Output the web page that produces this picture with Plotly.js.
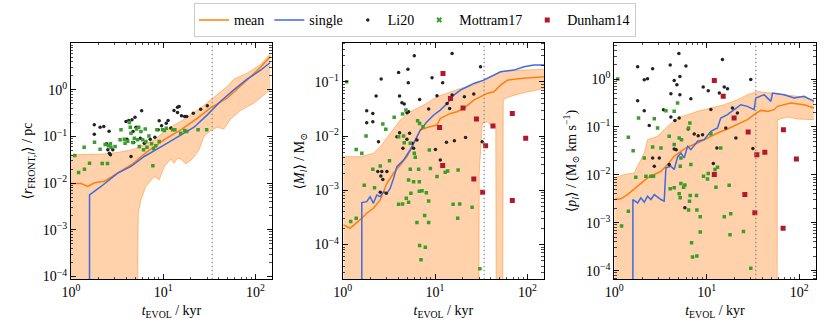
<!DOCTYPE html>
<html>
<head>
<meta charset="utf-8">
<script src="https://cdn.plot.ly/plotly-3.0.1.min.js"></script>
<style>
  html, body { margin: 0; padding: 0; background: #fff; }
  #chart { width: 830px; height: 332px; }
</style>
</head>
<body>
<div id="chart"></div>
<script>
// Data

// vertical marker (kyr)
const T_REF = 34;
// stands in for "band reaches zero" on a log axis
const FLOOR = 1e-8;

// Panel 1: <r_FRONT,l> / pc
const p1UpperT = [1.0, 1.52, 2.12, 3.21, 4.86, 8.0, 11.1, 16.9, 25.5, 32.7, 49.4, 58.3, 81.3, 113, 145];
const p1UpperV = [0.0405, 0.0405, 0.0418, 0.0454, 0.0535, 0.085, 0.144, 0.235, 0.405, 0.61, 1.18, 1.69, 2.28, 3.43, 5.9];
const p1LowerT = [1.0, 5.07, 5.37, 5.74, 6.5, 8.0, 9.05, 10.3, 12.1, 13.1, 14.3, 15.5, 17.6, 19.9, 22.5, 24.5, 27.7, 32.7, 38.6, 45.5, 53.7, 68.9, 95.9, 145];
const p1LowerV = [FLOOR, FLOOR, 0.00228, 0.0044, 0.0085, 0.0139, 0.0118, 0.0228, 0.0327, 0.0268, 0.034, 0.0327, 0.026, 0.0306, 0.0405, 0.0518, 0.1, 0.134, 0.158, 0.144, 0.235, 0.36, 0.518, 1.0];
const p1MeanT = [1.0, 1.29, 1.52, 1.8, 2.31, 3.2, 4.48, 6.78, 10.2, 15.5, 23.4, 32.6, 49.3, 74.6, 113, 145];
const p1MeanV = [0.0098, 0.0098, 0.0085, 0.0102, 0.011, 0.0162, 0.0245, 0.048, 0.085, 0.138, 0.245, 0.41, 0.66, 1.38, 3.0, 5.2];
const p1SingleT = [1.585, 1.59, 2.12, 3.21, 4.48, 6.24, 10.3, 15.5, 21.6, 30.1, 35.4, 41.7, 58.3, 81.3, 113, 145];
const p1SingleV = [FLOOR, 0.0056, 0.0085, 0.0164, 0.0228, 0.0373, 0.0663, 0.109, 0.158, 0.291, 0.405, 0.562, 1.0, 1.69, 2.6, 3.85];
const p1LiT = [1.79, 1.79, 2.07, 2.27, 2.59, 2.43, 2.51, 2.61, 2.68, 2.84, 3.95, 4.23, 4.59, 4.95, 5.84, 5.07, 4.71, 4.48, 4.79, 4.05, 6.24, 7.24, 8.13, 9.05, 9.6, 10.8, 11.3, 12.1, 13.1, 14.3, 14.9, 14.3, 15.8, 17.1, 18.0, 21.2, 25.5, 30.1, 5.65, 8.83];
const p1LiV = [0.178, 0.112, 0.158, 0.164, 0.13, 0.0697, 0.0518, 0.044, 0.0405, 0.0518, 0.21, 0.22, 0.228, 0.26, 0.355, 0.158, 0.128, 0.0373, 0.0744, 0.0877, 0.072, 0.0877, 0.0968, 0.217, 0.169, 0.193, 0.22, 0.153, 0.36, 0.425, 0.44, 0.327, 0.277, 0.268, 0.268, 0.316, 0.385, 0.454, 0.092, 0.139];
const p1MotT = [1.1, 1.21, 1.39, 1.4, 1.59, 1.8, 2.07, 2.18, 2.49, 2.35, 2.55, 2.68, 2.72, 3.01, 3.41, 3.49, 3.79, 3.86, 4.12, 4.3, 4.4, 4.67, 4.86, 5.15, 5.28, 5.42, 5.74, 5.98, 6.39, 6.5, 6.67, 7.0, 7.48, 7.73, 7.87, 8.33, 8.54, 9.05, 9.84, 10.3, 10.8, 12.7, 13.4, 15.5, 17.1, 18.0, 23.9, 29.6, 6.13, 5.51, 4.48];
const p1MotV = [0.039, 0.0169, 0.059, 0.02, 0.0268, 0.0756, 0.0535, 0.0264, 0.0264, 0.0674, 0.063, 0.0697, 0.059, 0.061, 0.0849, 0.139, 0.0877, 0.072, 0.0794, 0.2, 0.158, 0.0744, 0.092, 0.144, 0.0849, 0.158, 0.128, 0.085, 0.144, 0.078, 0.059, 0.103, 0.0697, 0.0235, 0.0553, 0.063, 0.139, 0.078, 0.139, 0.134, 0.151, 0.139, 0.139, 0.118, 0.134, 0.128, 0.139, 0.139, 0.052, 0.061, 0.118];

// Panel 2: <M_l> / Msun
const p2UpperT = [1.02, 1.54, 2.15, 2.55, 3.27, 4.2, 5.39, 7.53, 10.5, 13.5, 18.8, 26.3, 33.8, 51.3, 84.7, 152];
const p2UpperV = [0.00417, 0.00417, 0.0048, 0.00636, 0.0112, 0.0197, 0.028, 0.0372, 0.053, 0.061, 0.0754, 0.0868, 0.11, 0.153, 0.164, 0.169];
const p2LowerT = [1.02, 29.6, 30.1, 31.1, 32.4, 36.7, 41.5, 45.5, 46.4, 53.5, 54.8, 60.7, 84.7, 152];
const p2LowerV = [FLOOR, FLOOR, 0.00206, 0.00553, 0.0171, 0.0184, 0.0149, 0.0149, FLOOR, FLOOR, 0.046, 0.0515, 0.061, 0.0754];
const p2MeanT = [1.02, 1.2, 1.54, 1.82, 2.15, 2.55, 3.01, 3.55, 4.2, 4.96, 5.86, 6.93, 8.18, 10.5, 11.4, 14.7, 17.3, 20.5, 26.3, 31.1, 36.7, 43.4, 51.3, 60.7, 84.7, 152];
const p2MeanV = [0.00023, 0.0002, 0.000285, 0.000378, 0.000467, 0.000664, 0.00135, 0.00206, 0.00292, 0.00417, 0.00733, 0.0129, 0.0144, 0.0159, 0.0211, 0.0261, 0.028, 0.0323, 0.046, 0.053, 0.061, 0.0655, 0.0868, 0.107, 0.115, 0.124];
const p2SingleT = [1.61, 1.61, 1.82, 1.98, 2.15, 2.34, 2.55, 2.77, 3.01, 3.27, 3.55, 3.86, 4.2, 4.56, 4.96, 5.39, 5.86, 6.37, 6.93, 8.18, 9.68, 11.4, 13.5, 16.0, 18.8, 22.3, 26.3, 33.8, 39.9, 51.3, 71.6, 92, 118, 152];
const p2SingleV = [FLOOR, 0.000593, 0.000618, 0.000764, 0.000576, 0.00082, 0.000764, 0.000945, 0.000881, 0.00109, 0.00164, 0.00273, 0.00314, 0.00361, 0.00447, 0.00553, 0.00733, 0.00972, 0.0129, 0.0184, 0.0244, 0.0301, 0.0399, 0.0569, 0.0703, 0.081, 0.0932, 0.107, 0.124, 0.153, 0.164, 0.189, 0.203, 0.203];
const p2LiT = [5.96, 15.3, 4.03, 5.09, 2.61, 5.13, 9.28, 12.1, 2.3, 4.13, 4.38, 4.64, 6.81, 1.82, 2.12, 1.82, 2.12, 4.96, 5.17, 10.5, 15.3, 13.5, 20.8, 26.3, 8.53, 14.4, 4.13, 5.3, 3.86, 4.96, 5.62, 4.49, 6.37, 2.44, 5.86, 10.1, 13.3, 16.2, 21.4, 32.4, 11.4, 2.4, 2.65, 3.01, 2.59, 2.72, 2.55, 2.96, 31.1];
const p2LiV = [0.301, 0.332, 0.149, 0.171, 0.112, 0.0959, 0.119, 0.0959, 0.0544, 0.0544, 0.041, 0.0388, 0.0473, 0.0293, 0.0261, 0.0176, 0.0184, 0.0269, 0.028, 0.0552, 0.0569, 0.0399, 0.053, 0.0593, 0.0314, 0.0323, 0.0115, 0.0112, 0.00972, 0.00869, 0.00733, 0.00593, 0.00844, 0.00787, 0.00593, 0.00568, 0.00765, 0.0082, 0.00945, 0.00787, 0.00361, 0.00221, 0.00221, 0.00221, 0.00184, 0.00159, 0.000919, 0.000881, 0.189];
const p2MotT = [1.105, 1.4, 1.61, 1.79, 2.72, 2.93, 3.61, 4.45, 4.84, 6.48, 6.81, 7.41, 4.56, 4.03, 4.64, 5.39, 5.96, 6.11, 3.21, 2.55, 2.12, 5.39, 6.64, 8.9, 10.5, 12.9, 13.7, 17.8, 1.71, 2.21, 5.17, 5.86, 6.76, 6.76, 7.22, 8.05, 5.48, 4.88, 4.03, 4.45, 5.17, 8.53, 15.7, 18.5, 25.2, 1.22, 1.4, 7.72, 6.37, 8.53, 17.6, 6.81, 7.85, 7.05, 30.6, 8.67];
const p2MotV = [0.1, 0.00568, 0.0048, 0.01, 0.0166, 0.0133, 0.0221, 0.0254, 0.0301, 0.0191, 0.0171, 0.0149, 0.01, 0.00972, 0.00754, 0.00733, 0.0048, 0.00405, 0.00351, 0.0028, 0.00244, 0.00244, 0.00244, 0.00251, 0.00179, 0.00215, 0.00227, 0.00237, 0.00124, 0.00112, 0.00155, 0.00144, 0.00144, 0.000959, 0.000986, 0.000906, 0.000881, 0.000713, 0.000552, 0.00056, 0.000601, 0.000637, 0.000552, 0.00056, 0.000486, 0.000265, 0.000306, 0.000342, 0.000254, 0.000254, 0.000306, 0.0000959, 0.0000893, 0.0000523, 0.0000357, 0.00553];
const p2DunT = [12.2, 14.7, 20.1, 28.1, 11.2, 42.4, 68.7, 95.9, 35.3, 12.1, 26.3, 32.8, 68.7];
const p2DunV = [0.142, 0.0493, 0.0327, 0.0206, 0.0144, 0.0153, 0.0261, 0.00906, 0.00664, 0.00288, 0.00162, 0.000919, 0.00065];

// Panel 3: <p_l> / (Msun km/s)
const p3UpperT = [1.0, 1.28, 1.64, 2.11, 2.29, 2.94, 3.77, 4.84, 6.21, 7.96, 11.1, 15.5, 21.5, 27.6, 35.5, 49.4, 68.9, 95.9, 145];
const p3UpperV = [0.00865, 0.0102, 0.011, 0.0287, 0.0545, 0.0639, 0.103, 0.154, 0.181, 0.212, 0.249, 0.292, 0.371, 0.472, 0.553, 0.511, 0.472, 0.436, 0.371];
const p3LowerT = [1.0, 57.4, 58.3, 74.8, 95.9, 145];
const p3LowerV = [FLOOR, FLOOR, 0.142, 0.162, 0.147, 0.142];
const p3MeanT = [1.0, 1.18, 1.39, 1.79, 2.29, 2.71, 3.2, 3.77, 4.45, 5.26, 6.21, 7.96, 10.2, 13.1, 16.8, 21.5, 27.6, 32.6, 38.5, 45.5, 53.7, 58.3, 81.3, 113, 145];
const p3MeanV = [0.00306, 0.00316, 0.00389, 0.00581, 0.00865, 0.0102, 0.0119, 0.0164, 0.0245, 0.0311, 0.0383, 0.0464, 0.059, 0.075, 0.0908, 0.112, 0.142, 0.181, 0.222, 0.212, 0.23, 0.27, 0.316, 0.292, 0.249];
const p3SingleT = [1.59, 1.59, 1.79, 1.94, 2.11, 2.29, 2.49, 2.71, 3.2, 3.47, 3.62, 4.1, 4.45, 4.84, 5.26, 5.71, 6.21, 6.74, 7.96, 9.39, 11.1, 13.1, 14.2, 16.8, 19.8, 23.4, 27.6, 32.6, 34.0, 41.9, 49.4, 51.5, 68.9, 88.3, 113, 145];
const p3SingleV = [FLOOR, 0.00306, 0.00261, 0.00332, 0.0027, 0.0036, 0.00306, 0.00389, 0.00306, 0.00283, 0.014, 0.0152, 0.0129, 0.0237, 0.0287, 0.0226, 0.0395, 0.0337, 0.0503, 0.0545, 0.0813, 0.0953, 0.154, 0.181, 0.23, 0.292, 0.27, 0.23, 0.402, 0.472, 0.343, 0.511, 0.472, 0.402, 0.436, 0.343];
const p3LiT = [5.0, 1.79, 2.6, 4.03, 5.96, 2.11, 2.29, 4.45, 5.13, 4.76, 14.8, 9.17, 10.4, 15.5, 16.8, 13.7, 30.0, 4.1, 5.13, 6.74, 1.79, 2.11, 3.41, 4.1, 4.53, 5.04, 2.39, 6.31, 7.33, 8.09, 9.02, 11.1, 19.0, 21.5, 16.1, 20.7, 12.9, 4.45, 4.68, 2.6, 3.07, 2.71, 3.93, 11.8, 31.6, 5.81];
const p3LiV = [3.43, 1.81, 1.64, 1.96, 1.87, 0.969, 1.02, 0.938, 1.14, 0.762, 2.57, 0.681, 0.571, 0.681, 0.629, 0.511, 0.984, 0.495, 0.472, 0.389, 0.354, 0.219, 0.23, 0.162, 0.136, 0.154, 0.107, 0.0908, 0.0715, 0.066, 0.0692, 0.233, 0.249, 0.196, 0.0953, 0.059, 0.0365, 0.0348, 0.0337, 0.0226, 0.0226, 0.0152, 0.0164, 0.0172, 0.0354, 0.00205];
const p3MotT = [1.09, 1.42, 1.83, 2.71, 2.94, 4.45, 3.62, 4.84, 6.58, 6.37, 1.6, 2.11, 2.6, 3.2, 3.93, 5.04, 5.35, 4.45, 5.26, 5.17, 6.74, 11.1, 14.2, 13.1, 12.3, 9.24, 10.2, 10.4, 1.71, 2.2, 2.49, 2.66, 4.45, 4.03, 5.26, 5.81, 5.62, 5.04, 5.17, 6.63, 7.76, 17.5, 12.6, 6.52, 6.37, 7.83, 8.51, 15.5, 18.2, 1.42, 1.2, 8.51, 17.9, 25.0, 6.86, 7.83, 7.03, 30.0];
const p3MotV = [1.0, 0.061, 0.154, 0.149, 0.0953, 0.212, 0.219, 0.316, 0.121, 0.0953, 0.0321, 0.0226, 0.0383, 0.0365, 0.0639, 0.059, 0.0545, 0.0429, 0.0226, 0.0152, 0.0164, 0.0726, 0.0365, 0.0145, 0.0129, 0.00938, 0.00826, 0.0107, 0.00893, 0.00938, 0.00938, 0.00938, 0.00536, 0.00511, 0.00659, 0.00619, 0.00553, 0.00402, 0.00332, 0.00371, 0.00371, 0.00609, 0.00553, 0.00283, 0.00184, 0.00184, 0.00133, 0.00133, 0.00154, 0.00175, 0.000853, 0.000639, 0.000562, 0.00066, 0.000383, 0.000202, 0.000193, 0.000112];
const p3DunT = [12.1, 15.1, 19.8, 28.1, 67.7, 93.5, 34.9, 42.6, 12.1, 25.9, 33.2, 67.1];
const p3DunV = [0.938, 0.436, 0.154, 0.0787, 0.0879, 0.0215, 0.0265, 0.0297, 0.0102, 0.00389, 0.00162, 0.000774];

// Style

const FONT = "Liberation Serif, DejaVu Serif, serif";
const ORANGE = "#ff7f0e";
const BAND_FILL = "rgba(255,127,14,0.35)";
const BAND_EDGE = "rgba(255,127,14,0.45)";
const BLUE = "#4169e1";
const BLACK = "#222222";
const GREEN = "#3a9d2c";
const RED = "#b2182b";

// Traces

const bandTraces = function (loT, loV, upT, upV, ax, ay) {
  return [
    {
      x: loT, y: loV, xaxis: ax, yaxis: ay,
      mode: "lines", line: { color: BAND_EDGE, width: 1 },
      showlegend: false, hoverinfo: "skip",
    },
    {
      x: upT, y: upV, xaxis: ax, yaxis: ay,
      mode: "lines", line: { color: BAND_EDGE, width: 1 },
      fill: "tonexty", fillcolor: BAND_FILL,
      showlegend: false, hoverinfo: "skip",
    },
  ];
};

const lineTrace = function (t, v, ax, ay, name, color, legend) {
  return {
    x: t, y: v, xaxis: ax, yaxis: ay, name: name,
    mode: "lines", line: { color: color, width: 1.5 },
    showlegend: legend, legendgroup: name,
  };
};

const pointTrace = function (t, v, ax, ay, name, color, symbol, size, legend) {
  return {
    x: t, y: v, xaxis: ax, yaxis: ay, name: name,
    mode: "markers", marker: { color: color, symbol: symbol, size: size },
    showlegend: legend, legendgroup: name,
  };
};

const panel1 = [
  ...bandTraces(p1LowerT, p1LowerV, p1UpperT, p1UpperV, "x", "y"),
  lineTrace(p1MeanT, p1MeanV, "x", "y", "mean", ORANGE, true),
  lineTrace(p1SingleT, p1SingleV, "x", "y", "single", BLUE, true),
  pointTrace(p1LiT, p1LiV, "x", "y", "Li20", BLACK, "circle", 3.5, true),
  // legend shows an x for Mottram17
  pointTrace([null], [null], "x", "y", "Mottram17", GREEN, "x", 5, true),
  pointTrace(p1MotT, p1MotV, "x", "y", "Mottram17", GREEN, "square", 3.5, false),
  pointTrace([null], [null], "x", "y", "Dunham14", RED, "square", 5, true),
];

const panel2 = [
  ...bandTraces(p2LowerT, p2LowerV, p2UpperT, p2UpperV, "x2", "y2"),
  lineTrace(p2MeanT, p2MeanV, "x2", "y2", "mean", ORANGE, false),
  lineTrace(p2SingleT, p2SingleV, "x2", "y2", "single", BLUE, false),
  pointTrace(p2LiT, p2LiV, "x2", "y2", "Li20", BLACK, "circle", 3.5, false),
  pointTrace(p2MotT, p2MotV, "x2", "y2", "Mottram17", GREEN, "square", 3.5, false),
  pointTrace(p2DunT, p2DunV, "x2", "y2", "Dunham14", RED, "square", 5, false),
];

const panel3 = [
  ...bandTraces(p3LowerT, p3LowerV, p3UpperT, p3UpperV, "x3", "y3"),
  lineTrace(p3MeanT, p3MeanV, "x3", "y3", "mean", ORANGE, false),
  lineTrace(p3SingleT, p3SingleV, "x3", "y3", "single", BLUE, false),
  pointTrace(p3LiT, p3LiV, "x3", "y3", "Li20", BLACK, "circle", 3.5, false),
  pointTrace(p3MotT, p3MotV, "x3", "y3", "Mottram17", GREEN, "square", 3.5, false),
  pointTrace(p3DunT, p3DunV, "x3", "y3", "Dunham14", RED, "square", 5, false),
];

// Layout

const decadeTicks = [1e-4, 1e-3, 1e-2, 1e-1, 1, 10, 100];
const decadeText = ["10<sup>−4</sup>", "10<sup>−3</sup>", "10<sup>−2</sup>", "10<sup>−1</sup>", "10<sup>0</sup>", "10<sup>1</sup>", "10<sup>2</sup>"];

const logAxis = function (domain, range, tickvals, title) {
  return {
    type: "log",
    domain: domain,
    range: range,
    tickmode: "array",
    tickvals: tickvals,
    ticktext: tickvals.map((v) => decadeText[decadeTicks.indexOf(v)]),
    showline: true, linecolor: "#000", linewidth: 1, mirror: "allticks",
    ticks: "inside", ticklen: 5, tickwidth: 0.9, tickcolor: "#000",
    minor: { ticks: "inside", dtick: "D1", ticklen: 2.5, tickwidth: 0.7, tickcolor: "#000", showgrid: false },
    showgrid: false, zeroline: false,
    tickfont: { family: FONT, size: 14, color: "#000" },
    title: { text: title, font: { family: FONT, size: 14, color: "#000" }, standoff: 6 },
  };
};

const X_TITLE = "<i>t</i><sub>EVOL</sub> / kyr";
const X_RANGE = [0, 2.18];
const Y_DOMAIN = [0.1587, 0.8714];

const refLine = function (xref) {
  return {
    type: "line", xref: xref, yref: xref.replace("x", "y") + " domain",
    x0: T_REF, x1: T_REF, y0: 0, y1: 1,
    line: { color: "#888", width: 1.2, dash: "1.5px,2.5px" },
  };
};

const layout = {
  width: 830,
  height: 332,
  margin: { l: 0, r: 0, t: 0, b: 0 },
  paper_bgcolor: "#fff",
  plot_bgcolor: "#fff",
  font: { family: FONT, size: 14, color: "#000" },
  showlegend: true,
  legend: {
    orientation: "h",
    x: 0.5, xanchor: "center",
    y: 0.99, yanchor: "top",
    bordercolor: "#cccccc", borderwidth: 1,
    bgcolor: "#fff",
    font: { family: FONT, size: 14, color: "#000" },
  },
  xaxis: logAxis([0.0855, 0.3277], X_RANGE, [1, 10, 100], X_TITLE),
  yaxis: logAxis(Y_DOMAIN, [-4.06, 1.01], [1e-4, 1e-3, 1e-2, 1e-1, 1], "⟨<i>r</i><sub>FRONT,<i>l</i></sub>⟩ / pc"),
  xaxis2: logAxis([0.4129, 0.6554], X_RANGE, [1, 10, 100], X_TITLE),
  yaxis2: logAxis(Y_DOMAIN, [-4.64, -0.28], [1e-4, 1e-3, 1e-2, 1e-1], "⟨<i>M</i><sub><i>l</i></sub>⟩ / M<sub>⊙</sub>"),
  xaxis3: logAxis([0.7401, 0.9828], X_RANGE, [1, 10, 100], X_TITLE),
  yaxis3: logAxis(Y_DOMAIN, [-4.18, 0.76], [1e-4, 1e-3, 1e-2, 1e-1, 1], "⟨<i>p</i><sub><i>l</i></sub>⟩ / (M<sub>⊙</sub> km s<sup>−1</sup>)"),
  shapes: [refLine("x"), refLine("x2"), refLine("x3")],
};

layout.xaxis.anchor = "y";
layout.yaxis.anchor = "x";
layout.xaxis2.anchor = "y2";
layout.yaxis2.anchor = "x2";
layout.xaxis3.anchor = "y3";
layout.yaxis3.anchor = "x3";

// Init

Plotly.newPlot("chart", [...panel1, ...panel2, ...panel3], layout, {
  displayModeBar: false,
  staticPlot: true,
});
</script>
</body>
</html>
